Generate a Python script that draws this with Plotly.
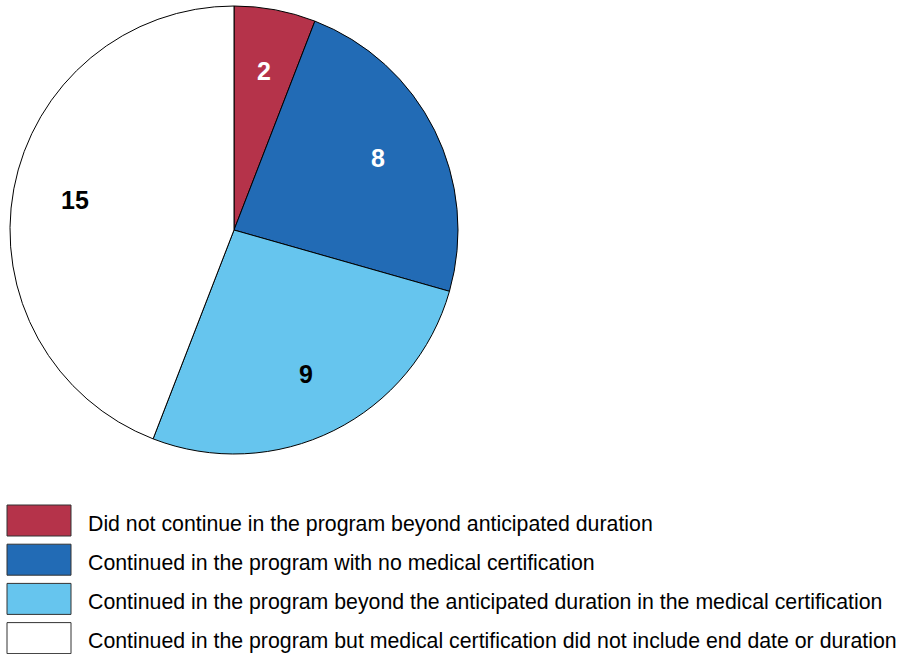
import math
import plotly.graph_objects as go

labels = [
    "Did not continue in the program beyond anticipated duration",
    "Continued in the program with no medical certification",
    "Continued in the program beyond the anticipated duration in the medical certification",
    "Continued in the program but medical certification did not include end date or duration",
]
values = [2, 8, 9, 15]
colors = ["#B5334A", "#226BB5", "#66C5EE", "#FFFFFF"]
text_colors = ["#FFFFFF", "#FFFFFF", "#000000", "#000000"]

W, H = 901, 654
OFF = 0  # body margin removed via post_script

def px(x):
    return (x - OFF) / W

def py(y):
    return 1 - (y - OFF) / H

CX, CY, R = 234, 230, 224

fig = go.Figure(go.Pie(
    labels=labels,
    values=values,
    sort=False,
    direction="clockwise",
    rotation=0,
    marker=dict(colors=colors, line=dict(color="#000000", width=1)),
    textinfo="none",
    domain=dict(x=[px(CX - R), px(CX + R)], y=[py(CY + R), py(CY - R)]),
    showlegend=False,
    hoverinfo="label+value",
))

shapes = []
annotations = []

# value labels at slice mid-angles
total = sum(values)
cum = 0
for v, tc in zip(values, text_colors):
    mid = (cum + v / 2) / total * 2 * math.pi
    cum += v
    rr = 0.72 * R
    lx = CX + rr * math.sin(mid)
    ly = CY - rr * math.cos(mid)
    annotations.append(dict(xref="paper", yref="paper", x=px(lx), y=py(ly),
                            xanchor="center", yanchor="middle", showarrow=False,
                            text="<b>%d</b>" % v,
                            font=dict(family="Liberation Sans, Arial, sans-serif", size=25, color=tc)))

# legend
box_x0, box_x1 = 7, 71
top0, step, bh = 505, 39.2, 31
for i, (lab, col) in enumerate(zip(labels, colors)):
    y0 = top0 + i * step
    shapes.append(dict(type="rect", xref="paper", yref="paper",
                       x0=px(box_x0), x1=px(box_x1), y0=py(y0 + bh), y1=py(y0),
                       fillcolor=col, line=dict(color="#333333", width=1)))
    annotations.append(dict(xref="paper", yref="paper", x=px(86), y=py(y0 + bh / 2 + 3),
                            xanchor="left", yanchor="middle", showarrow=False, text=lab,
                            font=dict(family="Liberation Sans, Arial, sans-serif", size=21.3, color="#000000")))

fig.update_layout(
    width=W, height=H,
    margin=dict(l=0, r=0, t=0, b=0),
    paper_bgcolor="#FFFFFF",
    plot_bgcolor="#FFFFFF",
    shapes=shapes,
    annotations=annotations,
)

fig.write_html("out.html", config={"displayModeBar": False},
               post_script="document.body.style.margin='0';document.body.style.overflow='hidden';")
